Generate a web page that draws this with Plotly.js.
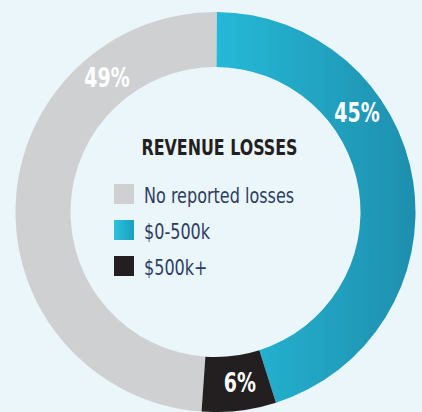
<!DOCTYPE html>
<html>
<head>
<meta charset="utf-8">
<script src="https://cdn.plot.ly/plotly-3.0.1.min.js"></script>
<style>
html,body{margin:0;padding:0;background:#ebf6fb;}
#chart{width:422px;height:412px;}
</style>
</head>
<body>
<div id="chart"></div>
<script>
// ---- data ----
const categories = ["No reported losses", "$0-500k", "$500k+"];
const shares = [49, 45, 6];
const chartTitle = "REVENUE LOSSES";

// ---- style ----
const colors = ["#cfd0d2", "#1fa9c9", "#231f20"];
const labelAngles = [321, 55, 172];   // degrees clockwise from 12 o'clock, label placement
const W = 422, H = 412;
const dom = {x: [0.0367, 0.9846], y: [0, 0.9709]};
const holeFrac = 0.725;
const cx = (dom.x[0] + dom.x[1]) / 2 * W;
const cy = (dom.y[0] + dom.y[1]) / 2 * H;
const R = Math.min((dom.x[1] - dom.x[0]) * W, (dom.y[1] - dom.y[0]) * H) / 2;
const rLab = R * (1 + holeFrac) / 2;
const squeezeK = 0.81;          // horizontal condensing of text (condensed face look)
const titleSqueezeK = 0.84;
const titleCenterY = 148, firstItemY = 194, itemStep = 36;

const narrow = "'DejaVu Sans Condensed', 'Liberation Sans Narrow', sans-serif";

const annotations = shares.map((v, i) => {
  const a = labelAngles[i] * Math.PI / 180;
  return {
    xref: "paper", yref: "paper",
    x: (cx + rLab * Math.sin(a)) / W,
    y: (cy + rLab * Math.cos(a)) / H,
    xanchor: "center", yanchor: "middle",
    text: "<b>" + v + "%</b>",
    showarrow: false,
    font: {family: narrow, size: 26, color: "#ffffff"}
  };
});

const trace = {
  type: "pie",
  labels: categories,
  values: shares,
  sort: false,
  direction: "clockwise",
  rotation: 184,
  hole: holeFrac,
  textinfo: "none",
  hoverinfo: "label+percent",
  marker: {colors: colors, line: {width: 0}},
  domain: dom
};

const layout = {
  width: W, height: H,
  margin: {l: 0, r: 0, t: 0, b: 0, pad: 0},
  paper_bgcolor: "#ebf6fb",
  plot_bgcolor: "#ebf6fb",
  showlegend: true,
  legend: {
    x: 104 / W, xanchor: "left",
    y: 1 - 130 / H, yanchor: "top",
    bgcolor: "rgba(0,0,0,0)",
    borderwidth: 0,
    font: {family: narrow, size: 22, color: "#2b3d63"},
    title: {text: "<b>" + chartTitle + "</b>", side: "top center",
            font: {family: narrow, size: 21, color: "#231f20"}},
    itemclick: false, itemdoubleclick: false
  },
  annotations: annotations
};

Plotly.newPlot("chart", [trace], layout, {displayModeBar: false, staticPlot: true}).then(function () {
  const root = document.getElementById("chart");
  const svg = root.querySelector(".main-svg");
  const ns = "http://www.w3.org/2000/svg";
  let defs = svg.querySelector("defs");
  if (!defs) { defs = document.createElementNS(ns, "defs"); svg.insertBefore(defs, svg.firstChild); }
  function grad(id, c1, c2) {
    const g = document.createElementNS(ns, "linearGradient");
    g.setAttribute("id", id);
    g.setAttribute("x1", "0"); g.setAttribute("y1", "0");
    g.setAttribute("x2", "1"); g.setAttribute("y2", "0");
    [[0, c1], [1, c2]].forEach(function (s) {
      const st = document.createElementNS(ns, "stop");
      st.setAttribute("offset", s[0]);
      st.setAttribute("stop-color", s[1]);
      g.appendChild(st);
    });
    defs.appendChild(g);
  }
  grad("blueRing", "#25b9d7", "#1e8fae");
  grad("blueKey", "#2cc2de", "#1a9fc0");
  const slices = root.querySelectorAll("g.slice path.surface");
  if (slices[1]) slices[1].style.fill = "url(#blueRing)";

  function squeeze(t, k, recenter) {
    const L = t.getComputedTextLength();
    t.setAttribute("textLength", (L * k).toFixed(2));
    t.setAttribute("lengthAdjust", "spacingAndGlyphs");
    if (recenter) {
      const x = parseFloat(t.getAttribute("x") || "0");
      t.setAttribute("x", (x + L * (1 - k) / 2).toFixed(2));
    }
  }

  // let the legend draw outside its own box
  root.querySelectorAll(".legend [clip-path], .legend").forEach(function (e) { e.removeAttribute("clip-path"); });

  // legend swatches: larger squares, gradient for the blue key
  const keys = root.querySelectorAll(".legendpoints path");
  keys.forEach(function (p, i) {
    p.setAttribute("transform", "translate(20,0) scale(1.67)");
    p.style.strokeWidth = "0";
    if (i === 1) p.style.fill = "url(#blueKey)";
  });
  // legend item spacing
  const items = root.querySelectorAll(".legend g.traces");
  items.forEach(function (g, i) {
    const sw = g.querySelector(".legendpoints path");
    if (!sw) return;
    const r = sw.getBoundingClientRect();
    const c = r.top + r.height / 2;
    const want = firstItemY + i * itemStep;
    const m = /translate\(\s*([-\d.e]+)[ ,]+([-\d.e]+)\s*\)/.exec(g.getAttribute("transform") || "");
    const tx = m ? parseFloat(m[1]) : 0, ty = m ? parseFloat(m[2]) : 0;
    g.setAttribute("transform", "translate(" + tx + "," + (ty + want - c) + ")");
    const t = g.querySelector("text.legendtext");
    if (t) squeeze(t, squeezeK, false);
  });
  // legend title
  const tt = root.querySelector(".legend .legendtitletext");
  if (tt) {
    squeeze(tt, titleSqueezeK, true);
    const r = tt.getBoundingClientRect();
    const c = r.top + r.height / 2;
    const y = parseFloat(tt.getAttribute("y") || "0");
    tt.setAttribute("y", (y + titleCenterY - c).toFixed(2));
  }
  // slice labels
  root.querySelectorAll(".annotation text.annotation-text").forEach(function (t) { squeeze(t, squeezeK, false); });
});
</script>
</body>
</html>
